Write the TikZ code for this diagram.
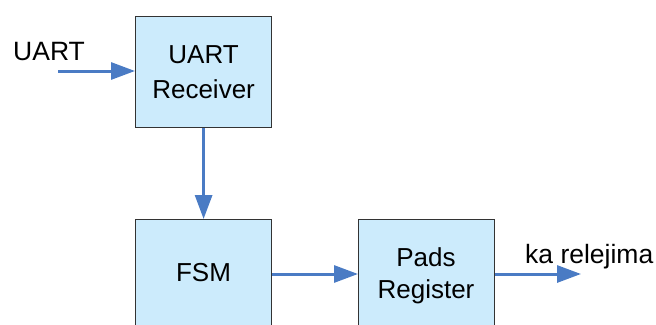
\documentclass[tikz,border=0pt]{standalone}
\usepackage{fontspec}
\setmainfont{Liberation Sans}
\usetikzlibrary{arrows.meta}
\definecolor{boxfill}{HTML}{CCEBFC}
\definecolor{boxline}{HTML}{333333}
\definecolor{wire}{HTML}{4A7BC4}
\tikzset{
  block/.style={draw=boxline, line width=1.2pt, fill=boxfill, minimum width=136pt,
    anchor=north west, inner sep=0pt, align=center, font=\fontsize{26}{35}\selectfont},
  sig/.style={draw=wire, line width=3pt, -{Triangle[length=24pt, width=17pt]}},
  lbl/.style={font=\fontsize{26.5}{30}\selectfont, inner sep=0pt}
}
\begin{document}
\begin{tikzpicture}[x=1pt, y=-1pt]
  \useasboundingbox (0,0) rectangle (656,324);
  \clip (0,0) rectangle (656,324);
  % blocks
  \node[block, minimum height=111pt] (rx) at (135,16) {UART\\Receiver};
  \node[block, minimum height=120pt] (fsm) at (135,219) {};
  \node[font=\fontsize{26}{35}\selectfont] (fsmt) at (203.5,273) {FSM};
  \node[block, minimum height=120pt] (pads) at (358,219) {};
  \node[align=center, font=\fontsize{26}{32}\selectfont] (padst) at (426,275.5) {Pads\\Register};
  % free ends
  \coordinate (in) at (58,71);
  \coordinate (out) at (581,274);
  % labels
  \node[lbl, anchor=base west] (uart) at (13,60) {UART};
  \node[lbl, anchor=base west] (ka) at (525,263) {ka relejima};
  % connectors
  \draw[sig] (in) -- (in -| rx.west);
  \draw[sig] (rx.south) -- (fsm.north);
  \draw[sig] (fsm.east |- out) -- (pads.west |- out);
  \draw[sig] (pads.east |- out) -- (out);
\end{tikzpicture}
\end{document}
